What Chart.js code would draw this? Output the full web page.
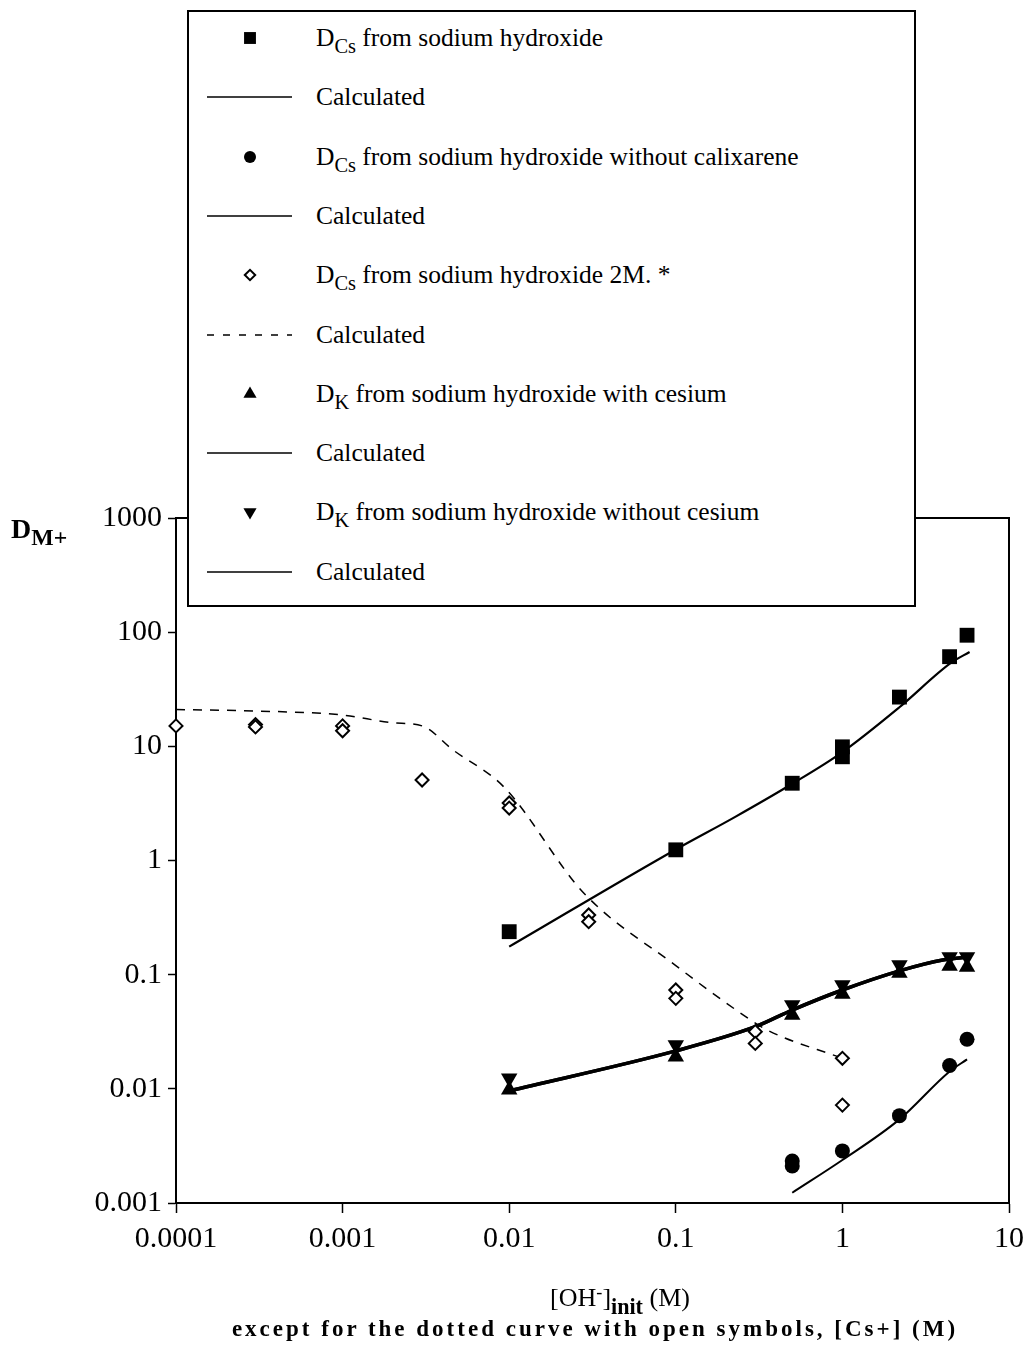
<!DOCTYPE html>
<html>
<head>
<meta charset="utf-8">
<title>Distribution ratios vs hydroxide concentration</title>
<script src="https://cdn.jsdelivr.net/npm/chart.js@4.4.1/dist/chart.umd.min.js"></script>
<style>
  body { margin: 0; background: #fff; }
  #wrap { position: relative; width: 1026px; height: 1345px; font-family: "Liberation Serif", "Times New Roman", serif; color: #000; }
  #chart { position: absolute; left: 0; top: 0; }
  #legend { position: absolute; left: 187px; top: 10px; width: 729px; height: 597px; box-sizing: border-box; border: 2px solid #000; background: #fff; }
  .row { position: absolute; left: 0; height: 40px; width: 720px; }
  .row canvas { position: absolute; left: 12px; top: 0; }
  .row .txt { position: absolute; left: 127px; top: 0; line-height: 40px; font-size: 25.5px; white-space: nowrap; }
  .row sub { font-size: 0.8em; vertical-align: -0.32em; line-height: 0; }
  #ytitle { position: absolute; left: 11px; top: 513px; font-weight: bold; font-size: 28px; line-height: 32px; }
  #ytitle sub { font-size: 0.85em; vertical-align: -0.3em; line-height: 0; }
  #xtitle { position: absolute; left: 0; top: 1281px; width: 1240px; text-align: center; font-size: 26px; line-height: 34px; }
  #xtitle sup { font-size: 0.7em; vertical-align: 0.45em; line-height: 0; }
  #xtitle sub { font-size: 0.85em; vertical-align: -0.35em; line-height: 0; font-weight: bold; }
  #xnote { position: absolute; left: 0; top: 1315px; width: 1190px; text-align: center; font-size: 23px; font-weight: bold; letter-spacing: 3px; line-height: 28px; }
</style>
</head>
<body>
<div id="wrap">
  <canvas id="chart" width="1026" height="1345"></canvas>
  <div id="legend"></div>
  <div id="ytitle">D<sub>M+</sub></div>
  <div id="xtitle">[OH<sup>-</sup>]<sub>init</sub> (M)</div>
  <div id="xnote">except for the dotted curve with open symbols, [Cs+] (M)</div>
</div>
<script>
// Decade ticks on both log axes
const xTickValues = [0.0001, 0.001, 0.01, 0.1, 1, 10];
const xTickLabels = ['0.0001', '0.001', '0.01', '0.1', '1', '10'];
const yTickValues = [0.001, 0.01, 0.1, 1, 10, 100, 1000];
const yTickLabels = ['0.001', '0.01', '0.1', '1', '10', '100', '1000'];

// D(Cs) from sodium hydroxide
const naohConc = [0.01, 0.1, 0.5, 1, 1, 2.2, 4.4, 5.6];
const dCsNaoh = [0.238, 1.24, 4.75, 9.9, 8.1, 27, 61, 94];
const calcCsConc = [0.01, 0.1, 0.226, 0.5, 1, 2.2, 4.5, 5.8];
const calcCs = [0.176, 1.25, 2.4, 4.7, 8.9, 22, 54, 67];

// D(Cs) without calixarene
const noCalixConc = [0.5, 0.5, 1, 2.2, 4.4, 5.6];
const dCsNoCalix = [0.00233, 0.00211, 0.00286, 0.00582, 0.016, 0.0272];
const calcNoCalixConc = [0.5, 1, 2.2, 4.4, 5.6];
const calcNoCalix = [0.00123, 0.00238, 0.0054, 0.0142, 0.0181];

// D(Cs) in 2 M NaOH, plotted against [Cs+]
const cesiumConc = [0.0001, 0.0003, 0.0003, 0.001, 0.001, 0.003, 0.01, 0.01, 0.03, 0.03, 0.1, 0.1, 0.3, 0.3, 1, 1];
const dCs2M = [15.1, 15.5, 14.8, 15.1, 13.7, 5.07, 3.19, 2.88, 0.333, 0.291, 0.0734, 0.062, 0.0317, 0.025, 0.0185, 0.0072];
const calc2MConc = [0.0001, 0.0003, 0.001, 0.002, 0.003, 0.0046, 0.0093, 0.028, 0.1, 0.24, 0.35, 1];
const calc2M = [21, 20.4, 18.8, 16.1, 15.1, 9.3, 4.4, 0.52, 0.12, 0.047, 0.033, 0.0185];

// D(K) with and without cesium
const kConc = [0.01, 0.1, 0.5, 1, 2.2, 4.4, 5.6];
const dKWithCs = [0.0098, 0.0191, 0.0443, 0.0678, 0.1035, 0.119, 0.117];
const dKNoCs = [0.0124, 0.0242, 0.0542, 0.0813, 0.1217, 0.143, 0.143];
const calcKConc = [0.01, 0.1, 0.3, 0.5, 1, 2.2, 4, 5.6];
const calcKWithCs = [0.0096, 0.0215, 0.035, 0.049, 0.0734, 0.108, 0.1345, 0.142];
const calcKNoCs = [0.0096, 0.0215, 0.035, 0.049, 0.0734, 0.108, 0.1345, 0.142];

const pts = (xs, ys) => xs.map((x, i) => ({ x: x, y: ys[i] }));

function markers(label, parts, xs, ys, style) {
  return Object.assign({
    label: label,
    legendText: parts,
    data: pts(xs, ys),
    showLine: false,
    pointBackgroundColor: '#000',
    pointBorderColor: '#000',
    pointBorderWidth: 0,
    pointHoverRadius: 0,
    clip: false,
    order: 0
  }, style);
}

function curve(xs, ys, width, dash) {
  return {
    label: 'Calculated',
    legendText: ['Calculated'],
    data: pts(xs, ys),
    showLine: true,
    borderColor: '#000',
    borderWidth: width,
    borderDash: dash || [],
    pointRadius: 0,
    pointHoverRadius: 0,
    cubicInterpolationMode: 'monotone',
    order: 1
  };
}

const datasets = [
  markers('DCs from sodium hydroxide', ['D', 'Cs', ' from sodium hydroxide'], naohConc, dCsNaoh,
    { pointStyle: 'rect', pointRadius: 10.5 }),
  curve(calcCsConc, calcCs, 2.2),
  markers('DCs from sodium hydroxide without calixarene', ['D', 'Cs', ' from sodium hydroxide without calixarene'], noCalixConc, dCsNoCalix,
    { pointStyle: 'circle', pointRadius: 7.5 }),
  curve(calcNoCalixConc, calcNoCalix, 2),
  markers('DCs from sodium hydroxide 2M. *', ['D', 'Cs', ' from sodium hydroxide 2M. *'], cesiumConc, dCs2M,
    { pointStyle: 'rectRot', pointRadius: 6.5, pointBackgroundColor: '#fff', pointBorderWidth: 2 }),
  curve(calc2MConc, calc2M, 1.5, [9, 8]),
  markers('DK from sodium hydroxide with cesium', ['D', 'K', ' from sodium hydroxide with cesium'], kConc, dKWithCs,
    { pointStyle: 'triangle', pointRadius: 9.5 }),
  curve(calcKConc, calcKWithCs, 3.5),
  markers('DK from sodium hydroxide without cesium', ['D', 'K', ' from sodium hydroxide without cesium'], kConc, dKNoCs,
    { pointStyle: 'triangle', pointRadius: 9.5, pointRotation: 180 }),
  curve(calcKConc, calcKNoCs, 3.5)
];

// Top and right edges of the plot frame
const frameBox = {
  id: 'frameBox',
  afterDraw(chart) {
    const ctx = chart.ctx;
    const a = chart.chartArea;
    ctx.save();
    ctx.strokeStyle = '#000';
    ctx.lineWidth = 2;
    ctx.beginPath();
    ctx.moveTo(a.left, a.top);
    ctx.lineTo(a.right, a.top);
    ctx.lineTo(a.right, a.bottom);
    ctx.stroke();
    ctx.restore();
  }
};

Chart.defaults.font.family = '"Liberation Serif", "Times New Roman", serif';
Chart.defaults.color = '#000';

const chart = new Chart(document.getElementById('chart'), {
  type: 'scatter',
  data: { datasets: datasets },
  options: {
    responsive: false,
    animation: false,
    devicePixelRatio: 1,
    layout: { autoPadding: false, padding: { left: 0, top: 518, right: 17, bottom: 0 } },
    plugins: {
      legend: { display: false },
      tooltip: { enabled: false }
    },
    scales: {
      x: {
        type: 'logarithmic',
        min: 0.0001,
        max: 10,
        afterBuildTicks: (s) => { s.ticks = xTickValues.map(v => ({ value: v })); },
        afterFit: (s) => { s.height = 142; s.paddingLeft = 0; s.paddingRight = 0; },
        ticks: {
          autoSkip: false,
          maxRotation: 0,
          padding: 8,
          font: { size: 30 },
          callback: (v, i) => xTickLabels[i]
        },
        grid: { drawOnChartArea: false, drawTicks: true, tickLength: 10, tickColor: '#000', tickWidth: 1.5 },
        border: { color: '#000', width: 2 }
      },
      y: {
        type: 'logarithmic',
        min: 0.001,
        max: 1000,
        afterBuildTicks: (s) => { s.ticks = yTickValues.map(v => ({ value: v })); },
        afterFit: (s) => { s.width = 176; s.paddingTop = 0; s.paddingBottom = 0; },
        ticks: {
          autoSkip: false,
          padding: 6,
          font: { size: 30 },
          callback: (v, i) => yTickLabels[i]
        },
        grid: { drawOnChartArea: false, drawTicks: true, tickLength: 8, tickColor: '#000', tickWidth: 1.5 },
        border: { color: '#000', width: 2 }
      }
    }
  },
  plugins: [frameBox]
});

// Legend box drawn over the top of the plot, one row per dataset
function drawLegendSymbol(canvas, ds) {
  const ctx = canvas.getContext('2d');
  const cx = 49, cy = 20;
  ctx.fillStyle = '#000';
  ctx.strokeStyle = '#000';
  if (ds.showLine) {
    ctx.lineWidth = 1.5;
    ctx.setLineDash(ds.borderDash.length ? [7, 9] : []);
    ctx.beginPath();
    ctx.moveTo(6, cy);
    ctx.lineTo(91, cy);
    ctx.stroke();
    return;
  }
  const r = ds.pointRadius * 0.8;
  ctx.beginPath();
  if (ds.pointStyle === 'rect') {
    const h = r * Math.SQRT1_2;
    ctx.rect(cx - h, cy - h, 2 * h, 2 * h);
    ctx.fill();
  } else if (ds.pointStyle === 'circle') {
    ctx.arc(cx, cy, r, 0, Math.PI * 2);
    ctx.fill();
  } else if (ds.pointStyle === 'rectRot') {
    ctx.moveTo(cx - r, cy);
    ctx.lineTo(cx, cy - r);
    ctx.lineTo(cx + r, cy);
    ctx.lineTo(cx, cy + r);
    ctx.closePath();
    ctx.fillStyle = '#fff';
    ctx.fill();
    ctx.lineWidth = 2;
    ctx.stroke();
  } else if (ds.pointStyle === 'triangle') {
    let rad = (ds.pointRotation || 0) * Math.PI / 180;
    ctx.moveTo(cx + Math.sin(rad) * r, cy - Math.cos(rad) * r);
    for (let k = 0; k < 2; k++) {
      rad += Math.PI * 2 / 3;
      ctx.lineTo(cx + Math.sin(rad) * r, cy - Math.cos(rad) * r);
    }
    ctx.closePath();
    ctx.fill();
  }
}

const legendEl = document.getElementById('legend');
chart.data.datasets.forEach((ds, i) => {
  const row = document.createElement('div');
  row.className = 'row';
  row.style.top = (6 + i * 59.3) + 'px';
  const c = document.createElement('canvas');
  c.width = 100;
  c.height = 40;
  drawLegendSymbol(c, ds);
  row.appendChild(c);
  const t = document.createElement('div');
  t.className = 'txt';
  const p = ds.legendText;
  if (p.length === 3) {
    t.appendChild(document.createTextNode(p[0]));
    const s = document.createElement('sub');
    s.textContent = p[1];
    t.appendChild(s);
    t.appendChild(document.createTextNode(p[2]));
  } else {
    t.textContent = p[0];
  }
  row.appendChild(t);
  legendEl.appendChild(row);
});
</script>
</body>
</html>
